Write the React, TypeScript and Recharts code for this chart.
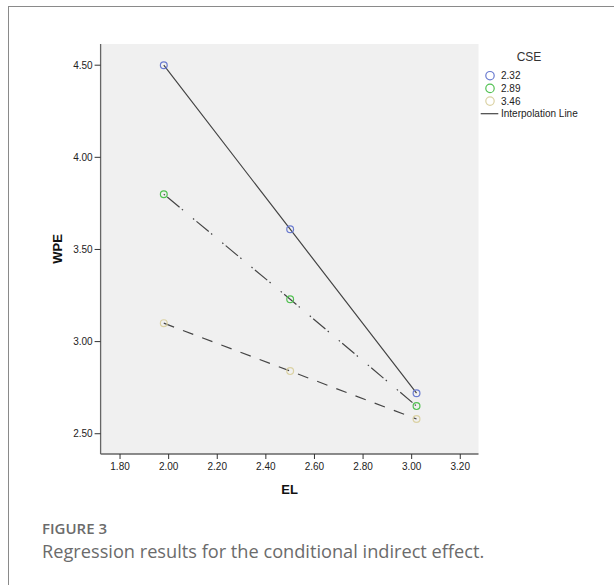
import {
  ScatterChart,
  Scatter,
  XAxis,
  YAxis,
  CartesianGrid,
  Legend,
} from "recharts"

const elValues = [1.98, 2.5, 3.02]
const cseLevels = ["2.32", "2.89", "3.46"]
const wpeLow = [4.5, 3.61, 2.72]
const wpeMid = [3.8, 3.23, 2.65]
const wpeHigh = [3.1, 2.84, 2.58]
const xTicks = [1.8, 2.0, 2.2, 2.4, 2.6, 2.8, 3.0, 3.2]
const yTicks = [2.5, 3.0, 3.5, 4.0, 4.5]

const xDomain = [1.72, 3.275]
const yDomain = [2.39, 4.615]

const markerColors = ["#6a7bd0", "#52c152", "#dbd2a4"]
const dashes = ["", "1.5 3 16 3 1.5 13", "11 9.5"]
const lineColor = "#454545"
const font = "'Liberation Sans', Arial, sans-serif"

const series = [wpeLow, wpeMid, wpeHigh].map((vals, i) => ({
  name: cseLevels[i],
  color: markerColors[i],
  dash: dashes[i],
  data: elValues.map((x, j) => ({ x, y: vals[j] })),
}))

const fmt = (v: number) => v.toFixed(2)

function hollow(color: string) {
  return (props: any) => (
    <circle
      cx={props.cx}
      cy={props.cy}
      r={3.4}
      fill="none"
      stroke={color}
      strokeWidth={1.2}
    />
  )
}

function LegendBox() {
  return (
    <svg width={136} height={80} style={{ fontFamily: font, display: "block" }}>
      <text x={51} y={17} textAnchor="middle" fontSize={12} fill="#333">
        CSE
      </text>
      {series.map((s, i) => (
        <g key={s.name}>
          <circle cx={12} cy={31.7 + i * 12.7} r={4.2} fill="none" stroke={s.color} strokeWidth={1.2} />
          <text x={23} y={35.3 + i * 12.7} fontSize={10} fill="#222">
            {s.name}
          </text>
        </g>
      ))}
      <line x1={2.7} x2={20.3} y1={69.7} y2={69.7} stroke={lineColor} strokeWidth={1.2} />
      <text x={23} y={73.3} fontSize={10} fill="#222">
        Interpolation Line
      </text>
    </svg>
  )
}

export default function App() {
  return (
    <div
      style={{
        position: "absolute",
        left: 0,
        top: 0,
        width: 614,
        height: 585,
        overflow: "hidden",
        background: "#fff",
      }}
    >
      <div
        style={{
          position: "absolute",
          left: 7.5,
          top: 6,
          width: 700,
          height: 700,
          border: "1.5px solid #8a8a8a",
        }}
      />
      <div style={{ position: "absolute", left: 0, top: 0 }}>
        <ScatterChart
          width={614}
          height={520}
          margin={{ top: 44, right: 135.5, bottom: 26, left: 50.6 }}
          style={{ fontFamily: font }}
        >
          <CartesianGrid horizontal={false} vertical={false} fill="#f0f0f0" />
          <XAxis
            type="number"
            dataKey="x"
            domain={xDomain}
            ticks={xTicks}
            tickFormatter={fmt}
            allowDataOverflow
            height={40}
            tickSize={5}
            tickMargin={4}
            tick={{ fontSize: 10, fill: "#222" }}
            tickLine={{ stroke: "#333" }}
            axisLine={{ stroke: "#666", strokeWidth: 1.3 }}
            label={{
              content: ({ viewBox }: any) => (
                <text
                  x={viewBox.x + viewBox.width / 2}
                  y={493.7}
                  textAnchor="middle"
                  fontSize={13}
                  fontWeight="bold"
                  fill="#111"
                >
                  EL
                </text>
              ),
            }}
          />
          <XAxis
            xAxisId="top"
            orientation="top"
            type="number"
            domain={xDomain}
            allowDataOverflow
            height={0}
            tick={false}
            tickLine={false}
            axisLine={{ stroke: "#666", strokeWidth: 1.3 }}
          />
          <YAxis
            type="number"
            dataKey="y"
            domain={yDomain}
            ticks={yTicks}
            tickFormatter={fmt}
            allowDataOverflow
            width={50}
            tickSize={6}
            tickMargin={2}
            tick={{ fontSize: 10, fill: "#222" }}
            tickLine={{ stroke: "#333" }}
            axisLine={{ stroke: "#666", strokeWidth: 1.3 }}
            label={{
              content: ({ viewBox }: any) => {
                const cx = 62.3
                const cy = viewBox.y + viewBox.height / 2
                return (
                  <text
                    x={cx}
                    y={cy}
                    transform={`rotate(-90 ${cx} ${cy})`}
                    textAnchor="middle"
                    fontSize={13}
                    fontWeight="bold"
                    fill="#111"
                  >
                    WPE
                  </text>
                )
              },
            }}
          />
          <YAxis
            yAxisId="right"
            orientation="right"
            type="number"
            domain={yDomain}
            allowDataOverflow
            width={0}
            tick={false}
            tickLine={false}
            axisLine={{ stroke: "#666", strokeWidth: 1.3 }}
          />
          {series.map((s) => (
            <Scatter
              key={s.name}
              name={s.name}
              data={s.data}
              fill={s.color}
              line={{ stroke: lineColor, strokeWidth: 1.2, strokeDasharray: s.dash || undefined }}
              shape={hollow(s.color)}
              isAnimationActive={false}
            />
          ))}
          <Legend
            layout="horizontal"
            verticalAlign="middle"
            content={() => <LegendBox />}
            wrapperStyle={{ position: "absolute", left: 478, top: 44, width: 136 }}
          />
        </ScatterChart>
      </div>
      <div
        style={{
          position: "absolute",
          left: 42,
          top: 518,
          fontFamily: "'Open Sans', sans-serif",
          fontSize: 15,
          lineHeight: "20px",
          fontWeight: 600,
          color: "#6b6b6b",
        }}
      >
        FIGURE 3
      </div>
      <div
        style={{
          position: "absolute",
          left: 42,
          top: 540,
          fontFamily: "'Open Sans', sans-serif",
          fontSize: 18.2,
          lineHeight: "22px",
          color: "#6b6b6b",
          whiteSpace: "nowrap",
        }}
      >
        Regression results for the conditional indirect effect.
      </div>
    </div>
  )
}
